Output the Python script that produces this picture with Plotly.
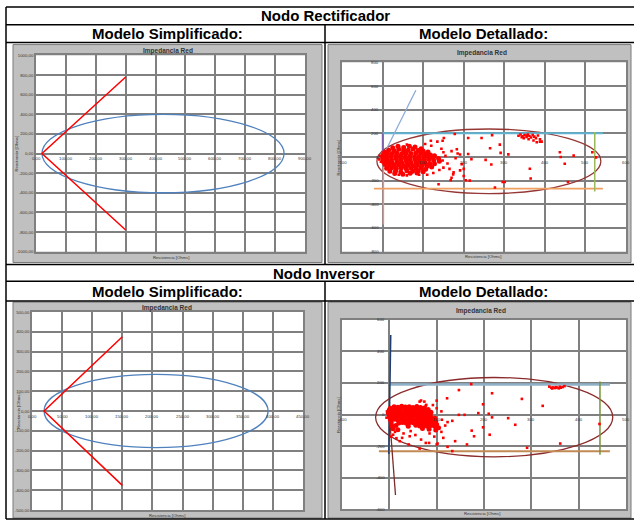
import plotly.graph_objects as go

W, H = 634, 524

# ---------------- data ----------------
# Nodo Rectificador - Modelo Simplificado
rs_x_ticks = [0, 100, 200, 300, 400, 500, 600, 700, 800, 900]
rs_x_labels = ["0,00", "100,00", "200,00", "300,00", "400,00", "500,00", "600,00", "700,00", "800,00", "900,00"]
rs_y_ticks = [1000, 800, 600, 400, 200, 0, -200, -400, -600, -800, -1000]
rs_y_labels = ["1000,00", "800,00", "600,00", "400,00", "200,00", "0,00", "-200,00", "-400,00", "-600,00", "-800,00", "-1000,00"]
rs_char_x = [300, 20, 300]
rs_char_y = [780, 0, -780]
rs_ellipse = [20, -400, 830, 400]

# Nodo Inversor - Modelo Simplificado
is_x_ticks = [0, 50, 100, 150, 200, 250, 300, 350, 400, 450]
is_x_labels = ["0,00", "50,00", "100,00", "150,00", "200,00", "250,00", "300,00", "350,00", "400,00", "450,00"]
is_y_ticks = [500, 400, 300, 200, 100, 0, -100, -200, -300, -400, -500]
is_y_labels = ["500,00", "400,00", "300,00", "200,00", "100,00", "0,00", "-100,00", "-200,00", "-300,00", "-400,00", "-500,00"]
is_char_x = [150, 20, 150]
is_char_y = [375, 0, -375]
is_ellipse = [20, -185, 392, 185]

# Nodo Rectificador - Modelo Detallado
rd_x_ticks = [-100, 100, 200, 300, 400, 500, 600]
rd_x_labels = ["-100", "100", "200", "300", "400", "500", "600"]
rd_y_ticks = [800, 600, 400, 200, 0, -200, -400, -600, -800]
rd_y_labels = ["800", "600", "400", "200", "0", "-200", "-400", "-600", "-800"]
rd_top_x, rd_top_y = [0, 543], [200, 200]
rd_bot_x, rd_bot_y = [-21, 543], [-267, -267]
rd_right_x, rd_right_y = [523, 523], [212, -292]
rd_purple_x, rd_purple_y = [0, 0], [0, 200]
rd_pink_x, rd_pink_y = [2, 2], [0, -570]
rd_diag_x, rd_diag_y = [0, 82], [0, 565]
rd_ellipse = [-14, -309, 538, 237]
rd_core_x = [25, 38, 52, 66, 80, 95,
             5, 15, 28, 40, 52, 63, 75, 88, 100, 112,
             2, 12, 24, 35, 47, 58, 70, 82, 94, 106, 118, 128,
             0, 10, 21, 33, 44, 56, 67, 79, 90, 102, 113, 125, 138,
             1, 11, 22, 34, 45, 57, 68, 80, 91, 103, 114, 126, 140,
             3, 13, 24, 36, 47, 59, 70, 82, 93, 105, 116, 128,
             6, 17, 29, 40, 52, 63, 75, 86, 98, 110, 121,
             10, 22, 34, 46, 58, 70, 82, 94, 106,
             18, 32, 45, 60, 74, 88, 100,
             30, 50, 68, 85]
rd_core_y = [78, 90, 80, 92, 84, 70,
             40, 58, 55, 66, 54, 57, 68, 55, 50, 42,
             22, 32, 30, 34, 27, 31, 29, 33, 30, 26, 18, 10,
             5, 2, 8, 4, 6, 1, 7, 3, 5, 0, 4, -8, -12,
             -20, -18, -22, -16, -21, -19, -23, -17, -20, -22, -18, -30, -36,
             -45, -42, -48, -44, -46, -41, -47, -43, -45, -49, -54, -58,
             -64, -68, -72, -66, -71, -69, -73, -67, -70, -78, -84,
             -95, -92, -98, -94, -96, -91, -97, -93, -104,
             -120, -118, -126, -116, -121, -119, -125,
             -140, -146, -138, -136]
rd_pts_x = [145, 150, 155, 148, 160, 150, 140, 125, 110, 165, 175, 170, 185, 180, 195, 200, 120, 105, 60, 135,
            -6, -8, -4, 90, 60, 40, 170, 200, 215,
            151, 148, 119, 178, 211, 244, 270, 265, 289, 291, 310, 254, 268, 219, 211, 191, 183, 191, 174, 168,
            205, 138, 296, 301, 277, 365, 363, 388, 437, 439, 471, 449, 517, 526, 457,
            335, 340, 345, 350, 355, 358, 362, 366, 370, 374, 378, 383, 388, 392, 348, 360, 372, 380, 343, 356]
rd_pts_y = [70, 40, 10, -30, -55, -90, -110, -135, -150, -100, -130, 50, 30, -10, -60, -100, 95, 110, 105, 130,
            10, -20, -40, -150, -155, -150, -175, -160, -200,
            161, 138, 138, 194, 161, 161, 185, 74, 105, 35, 22, -24, -63, -18, 26, 21, 66, -113, -147, -197,
            -197, -231, -211, -211, -258, -182, -99, 130, 40, 0, 12, -57, 40, -3, -211,
            180, 190, 175, 185, 170, 190, 178, 165, 185, 172, 160, 182, 150, 130, 160, 150, 140, 125, 168, 182]

# Nodo Inversor - Modelo Detallado
id_x_ticks = [-100, 100, 200, 300, 400, 500]
id_x_labels = ["-100", "100", "200", "300", "400", "500"]
id_y_ticks = [600, 400, 200, 0, -200, -400, -600]
id_y_labels = ["600", "400", "200", "0", "-200", "-400", "-600"]
id_top_x, id_top_y = [0, 466], [190, 190]
id_bot_x, id_bot_y = [-22, 466], [-233, -233]
id_right_x, id_right_y = [445, 445], [210, -255]
id_navy_x, id_navy_y = [3, -1], [505, -250]
id_maroon_x, id_maroon_y = [0, 13], [0, -510]
id_ellipse = [-29, -268, 472, 235]
id_core_x = [2, 10, 18, 26, 34, 42, 50, 58, 66, 74, 82,
             0, 8, 16, 24, 32, 40, 48, 56, 64, 72, 80, 88,
             -2, 6, 14, 22, 30, 38, 46, 54, 62, 70, 78, 86,
             0, 8, 16, 24, 32, 40, 48, 56, 64, 72, 80, 88, 96,
             2, 10, 18, 26, 34, 42, 50, 58, 66, 74, 82, 90, 98,
             4, 20, 28, 36, 44, 52, 60, 68, 76, 84, 92, 100,
             6, 14, 40, 56, 64, 72, 80, 88, 96, 104,
             8, 18, 70, 84, 98]
id_core_y = [40, 50, 46, 52, 47, 49, 45, 51, 44, 42, 32,
             28, 30, 26, 31, 27, 29, 25, 32, 28, 26, 24, 14,
             8, 10, 6, 11, 7, 9, 5, 12, 8, 6, 4, 2,
             -12, -10, -14, -9, -13, -11, -15, -8, -12, -14, -16, -18, -24,
             -32, -30, -34, -29, -33, -31, -35, -28, -32, -34, -36, -38, -44,
             -52, -54, -50, -55, -51, -53, -49, -56, -52, -54, -58, -64,
             -72, -70, -74, -68, -73, -71, -75, -69, -74, -84,
             -90, -96, -88, -94, -98]
id_pts_x = [8, 22, 41, 67, 77, 102, 74, 67, 77, 12, 4, 15, 30, 45, 55, 85, 95, 110, 118, 111, 123, 133,
            100, 110, 92, -5, -6,
            173, 147, 122, 100, 217, 198, 280, 324, 188, 210, 217, 147, 159, 251, 266, 198, 174, 179, 212,
            164, 139, 114, 123, 133, 100, 84, 64, 43, 27, 291, 361, 444, 78, 64,
            338, 342, 346, 350, 354, 358, 362, 366, 370, 344, 352, 360]
id_pts_y = [-128, -169, -190, -159, -180, -184, 82, 89, 56, -110, -140, -150, -120, -105, -130, -120, -140, -110,
            -70, -33, -48, -40, 40, 20, 60, 20, -20,
            193, 155, 103, 88, 135, 65, 99, 55, 9, 5, -18, -2, -2, -23, -65, -81, -102, -138, -128,
            -190, -169, -148, -205, -232, -190, -180, -216, -138, -148, -211, -184, -60, 61, 82,
            177, 170, 172, 168, 171, 166, 170, 174, 180, 165, 174, 176]

# ---------------- layout geometry (pixels) ----------------
def fx(px):
    return px / W


def fy(py):
    return 1 - py / H


plot_px = {
    "tl": (36, 305, 54, 252),
    "tr": (342, 626, 61, 252),
    "bl": (32, 303, 313, 513),
    "br": (342, 626, 321, 512),
}
panel_px = [(13, 322, 43, 263), (328, 631, 43, 263), (13, 322, 303, 521), (328, 631, 303, 521)]

GRID = "#808080"
TXT = "#333333"
FONT = "Liberation Sans"

fig = go.Figure()
shapes = []
annotations = []

# panels + white plot areas
for (x0, x1, y0, y1) in panel_px:
    shapes.append(dict(type="rect", xref="paper", yref="paper", x0=fx(x0), x1=fx(x1), y0=fy(y1), y1=fy(y0),
                       fillcolor="#c0c0c0", line=dict(color="#7a7a7a", width=1), layer="below"))
for k, (x0, x1, y0, y1) in plot_px.items():
    shapes.append(dict(type="rect", xref="paper", yref="paper", x0=fx(x0), x1=fx(x1), y0=fy(y1), y1=fy(y0),
                       fillcolor="white", line=dict(width=0), layer="below"))

# table lines
for py in [5, 23, 41, 265, 282, 302, 522]:
    shapes.append(dict(type="line", xref="paper", yref="paper", x0=fx(6), x1=fx(634), y0=fy(py), y1=fy(py),
                       line=dict(color="black", width=1.5)))
for (px, a, b) in [(6, 5, 522), (325, 23, 265), (325, 282, 522)]:
    shapes.append(dict(type="line", xref="paper", yref="paper", x0=fx(px), x1=fx(px), y0=fy(a), y1=fy(b),
                       line=dict(color="black", width=1.5)))


def head(text, px, py, size=15):
    annotations.append(dict(text=text, x=fx(px), y=fy(py), xref="paper", yref="paper", showarrow=False,
                            font=dict(family=FONT, size=size, color="black", weight="bold"),
                            xanchor="center", yanchor="middle"))


head("Nodo Rectificador", 325, 14)
head("Modelo Simplificado:", 167, 32)
head("Modelo Detallado:", 483, 32)
head("Nodo Inversor", 324, 274)
head("Modelo Simplificado:", 167, 292)
head("Modelo Detallado:", 483, 292)


def small(text, px, py, size=4.5, angle=0, bold=False, color=TXT):
    annotations.append(dict(text=text, x=fx(px), y=fy(py), xref="paper", yref="paper", showarrow=False,
                            textangle=angle, font=dict(family=FONT, size=size, color=color,
                                                       weight="bold" if bold else "normal"),
                            xanchor="center", yanchor="middle"))


for (px, py) in [(168, 49), (167, 309), (482, 51), (481, 312)]:
    small("Impedancia Red", px, py, size=6.5, bold=True, color="#333333")
for (px, py) in [(171, 258), (167, 518), (483, 257), (482, 516)]:
    small("Resistencia [Ohms]", px, py, size=4.2)
for (px, py) in [(17, 153), (18, 413), (339, 157), (338, 417)]:
    small("Reactancia [Ohms]", px, py, size=4.2, angle=-90)

# ---------------- axes ----------------
axis_common = dict(showgrid=True, gridcolor=GRID, gridwidth=1.6, zeroline=False, showline=True, mirror=True,
                   linecolor=GRID, linewidth=1.6, fixedrange=True)


def set_axes(n, key, xr, dx, yr, dy, yticks=None, ylabels=None):
    x0, x1, y0, y1 = plot_px[key]
    sx = "" if n == 1 else str(n)
    xa = dict(axis_common, domain=[fx(x0), fx(x1)], range=xr, dtick=dx, tick0=0, showticklabels=False,
              anchor="y" + sx)
    ya = dict(axis_common, domain=[fy(y1), fy(y0)], range=yr, anchor="x" + sx)
    if yticks is not None:
        ya.update(tickvals=yticks, ticktext=ylabels, tickfont=dict(family=FONT, size=4.3, color=TXT), ticks="")
    else:
        ya.update(dtick=dy, tick0=0, showticklabels=False)
    fig.update_layout(**{"xaxis" + sx: xa, "yaxis" + sx: ya})


set_axes(1, "tl", [0, 900], 100, [-1000, 1000], 200, rs_y_ticks, rs_y_labels)
set_axes(2, "tr", [-100, 600], 100, [-800, 800], 200)
set_axes(3, "bl", [0, 450], 50, [-500, 500], 100, is_y_ticks, is_y_labels)
set_axes(4, "br", [-100, 500], 100, [-600, 600], 200)

# x tick labels along y=0 (axis crossing), y tick labels along x=0 on detailed charts
for ax, ticks, labels in [("", rs_x_ticks, rs_x_labels), ("3", is_x_ticks, is_x_labels),
                          ("2", rd_x_ticks, rd_x_labels), ("4", id_x_ticks, id_x_labels)]:
    for v, t in zip(ticks, labels):
        annotations.append(dict(text=t, x=v, y=0, xref="x" + ax, yref="y" + ax, showarrow=False, yshift=-5,
                                font=dict(family=FONT, size=4.3, color=TXT), xanchor="center", yanchor="middle"))
for ax, ticks, labels in [("2", rd_y_ticks, rd_y_labels), ("4", id_y_ticks, id_y_labels)]:
    for v, t in zip(ticks, labels):
        annotations.append(dict(text=t, x=0, y=v, xref="x" + ax, yref="y" + ax, showarrow=False, xshift=-2,
                                font=dict(family=FONT, size=4.3, color=TXT), xanchor="right", yanchor="middle"))

# ellipses
for ax, e, col in [("", rs_ellipse, "#4f81bd"), ("3", is_ellipse, "#4f81bd"),
                   ("2", rd_ellipse, "#953735"), ("4", id_ellipse, "#8b2a2a")]:
    shapes.append(dict(type="circle", xref="x" + ax, yref="y" + ax, x0=e[0], y0=e[1], x1=e[2], y1=e[3],
                       line=dict(color=col, width=1.3), layer="between"))


def line(x, y, color, width, ax):
    fig.add_trace(go.Scatter(x=x, y=y, mode="lines", line=dict(color=color, width=width), xaxis="x" + ax,
                             yaxis="y" + ax, hoverinfo="skip", showlegend=False))


def pts(x, y, size, ax, symbol="square"):
    fig.add_trace(go.Scatter(x=x, y=y, mode="markers", marker=dict(color="#ff0000", size=size, symbol=symbol,
                                                                    line=dict(width=0)),
                             xaxis="x" + ax, yaxis="y" + ax, hoverinfo="skip", showlegend=False))


line(rs_char_x, rs_char_y, "#ff0000", 1.5, "")
line(is_char_x, is_char_y, "#ff0000", 1.5, "3")

line(rd_top_x, rd_top_y, "#5fb4d2", 2, "2")
line(rd_bot_x, rd_bot_y, "#f0a060", 1.8, "2")
line(rd_right_x, rd_right_y, "#9bbb59", 1.5, "2")
line(rd_purple_x, rd_purple_y, "#7f5fa8", 1.5, "2")
line(rd_pink_x, rd_pink_y, "#d99694", 1.5, "2")
line(rd_diag_x, rd_diag_y, "#8eaad8", 1.3, "2")
pts(rd_core_x, rd_core_y, 5, "2", "circle")
pts(rd_pts_x, rd_pts_y, 2.6, "2")

line(id_top_x, id_top_y, "#8fb2c9", 2.5, "4")
line(id_bot_x, id_bot_y, "#c08a55", 1.8, "4")
line(id_right_x, id_right_y, "#77933c", 1.5, "4")
line(id_navy_x, id_navy_y, "#1f3d6e", 1.5, "4")
line(id_maroon_x, id_maroon_y, "#7b2c2c", 1.3, "4")
pts(id_core_x, id_core_y, 5, "4", "circle")
pts(id_pts_x, id_pts_y, 2.6, "4")

fig.update_layout(width=W, height=H, margin=dict(l=0, r=0, t=0, b=0), paper_bgcolor="white",
                  plot_bgcolor="white", showlegend=False, shapes=shapes, annotations=annotations,
                  font=dict(family=FONT))

fig.write_html("out.html", config={"displayModeBar": False},
               post_script="document.body.style.margin='0';document.body.style.overflow='hidden';")
